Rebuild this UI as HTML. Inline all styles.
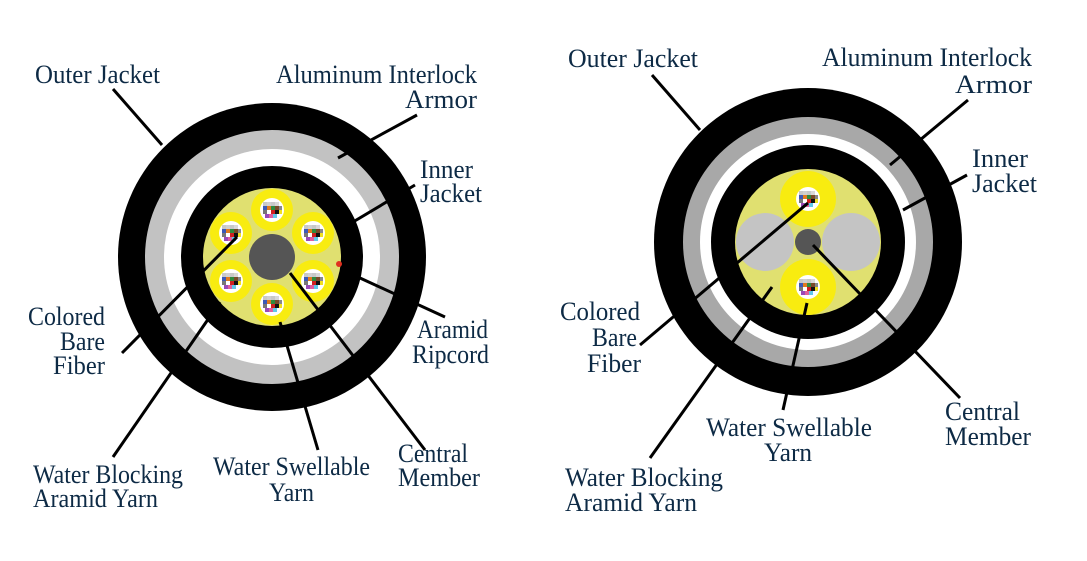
<!DOCTYPE html>
<html><head><meta charset="utf-8"><style>
html,body{margin:0;padding:0;background:#fff}
svg{display:block}
text{font-family:"Liberation Serif",serif;fill:#0d2a45;font-size:26px}
</style></head><body>
<svg width="1087" height="561" viewBox="0 0 1087 561" xmlns="http://www.w3.org/2000/svg">
<defs>
<g id="fib">
<circle r="12" fill="#fff"/>
<rect x="-9" y="-8" width="4" height="4" fill="#c8c8c8"/><rect x="-5" y="-8" width="4" height="4" fill="#d0d0d0"/><rect x="-1" y="-8" width="4" height="4" fill="#c8c8c8"/><rect x="3" y="-8" width="4" height="4" fill="#d8d8d8"/>
<rect x="-9" y="-4" width="4" height="4" fill="#3b5ab8"/><rect x="-5" y="-4" width="4" height="4" fill="#e07a20"/><rect x="-1" y="-4" width="4" height="4" fill="#2e8b3e"/><rect x="3" y="-4" width="4" height="4" fill="#7a4a28"/><rect x="7" y="-4" width="3" height="4" fill="#888"/>
<rect x="-9" y="0" width="4" height="4" fill="#777"/><rect x="-5" y="0" width="4" height="4" fill="#fff"/><rect x="-1" y="0" width="4" height="4" fill="#d02020"/><rect x="3" y="0" width="4" height="4" fill="#111"/><rect x="7" y="0" width="3" height="4" fill="#f0e020"/>
<rect x="-7" y="4" width="4" height="4" fill="#9a4ab8"/><rect x="-3" y="4" width="4" height="4" fill="#e060a0"/><rect x="1" y="4" width="4" height="4" fill="#60c8e8"/>
</g>
</defs>

<!-- LEFT CABLE -->
<circle cx="272" cy="257" r="154" fill="#000"/>
<circle cx="272" cy="257" r="127" fill="#c2c2c2"/>
<circle cx="272" cy="257" r="108" fill="#fff"/>
<circle cx="272" cy="257" r="91" fill="#000"/>
<circle cx="272" cy="257" r="69" fill="#e0e070"/>
<g fill="#f8ec10">
<circle cx="272" cy="210" r="21"/><circle cx="313" cy="233" r="21"/><circle cx="313" cy="281" r="21"/>
<circle cx="272" cy="304" r="21"/><circle cx="231" cy="281" r="21"/><circle cx="231" cy="233" r="21"/>
</g>
<use href="#fib" x="272" y="210"/><use href="#fib" x="313" y="233"/><use href="#fib" x="313" y="281"/>
<use href="#fib" x="272" y="304"/><use href="#fib" x="231" y="281"/><use href="#fib" x="231" y="233"/>
<circle cx="272" cy="257" r="23" fill="#555"/>
<circle cx="339" cy="264" r="3" fill="#e03020"/>
<g stroke="#000" stroke-width="3" fill="none">
<line x1="113" y1="89" x2="162" y2="145"/>
<line x1="417" y1="115" x2="338" y2="158"/>
<line x1="415" y1="185" x2="353" y2="222"/>
<line x1="445" y1="317" x2="360" y2="278"/>
<line x1="425" y1="450" x2="290" y2="273"/>
<line x1="318" y1="450" x2="280" y2="322"/>
<line x1="113" y1="457" x2="220" y2="302"/>
<line x1="122" y1="353" x2="237" y2="237"/>
</g>
<text x="35" y="83" textLength="125" lengthAdjust="spacingAndGlyphs">Outer Jacket</text>
<text x="276" y="83" textLength="201" lengthAdjust="spacingAndGlyphs">Aluminum Interlock</text>
<text x="405" y="108" textLength="72" lengthAdjust="spacingAndGlyphs">Armor</text>
<text x="420" y="178" textLength="53" lengthAdjust="spacingAndGlyphs">Inner</text>
<text x="420" y="202" textLength="62" lengthAdjust="spacingAndGlyphs">Jacket</text>
<text x="28" y="325" textLength="77" lengthAdjust="spacingAndGlyphs">Colored</text>
<text x="60" y="350" textLength="45" lengthAdjust="spacingAndGlyphs">Bare</text>
<text x="53" y="374" textLength="52" lengthAdjust="spacingAndGlyphs">Fiber</text>
<text x="417" y="338" textLength="71" lengthAdjust="spacingAndGlyphs">Aramid</text>
<text x="412" y="363" textLength="77" lengthAdjust="spacingAndGlyphs">Ripcord</text>
<text x="398" y="462" textLength="70" lengthAdjust="spacingAndGlyphs">Central</text>
<text x="398" y="486" textLength="82" lengthAdjust="spacingAndGlyphs">Member</text>
<text x="213" y="475" textLength="157" lengthAdjust="spacingAndGlyphs">Water Swellable</text>
<text x="269" y="501" textLength="45" lengthAdjust="spacingAndGlyphs">Yarn</text>
<text x="33" y="483" textLength="150" lengthAdjust="spacingAndGlyphs">Water Blocking</text>
<text x="33" y="507" textLength="125" lengthAdjust="spacingAndGlyphs">Aramid Yarn</text>

<!-- RIGHT CABLE -->
<circle cx="808" cy="242" r="154" fill="#000"/>
<circle cx="808" cy="242" r="125" fill="#a8a8a8"/>
<circle cx="808" cy="242" r="108" fill="#fff"/>
<circle cx="808" cy="242" r="97" fill="#000"/>
<circle cx="808" cy="242" r="73" fill="#e0e070"/>
<circle cx="765" cy="242" r="29" fill="#c4c4c4"/>
<circle cx="851" cy="242" r="29" fill="#c4c4c4"/>
<circle cx="808" cy="199" r="28" fill="#f8ec10"/>
<circle cx="808" cy="287" r="28" fill="#f8ec10"/>
<use href="#fib" x="808" y="199"/>
<use href="#fib" x="808" y="287"/>
<circle cx="808" cy="242" r="13" fill="#555"/>
<g stroke="#000" stroke-width="3" fill="none">
<line x1="652" y1="75" x2="700" y2="130"/>
<line x1="968" y1="100" x2="890" y2="165"/>
<line x1="967" y1="175" x2="903" y2="210"/>
<line x1="960" y1="398" x2="813" y2="245"/>
<line x1="783" y1="410" x2="807" y2="303"/>
<line x1="650" y1="458" x2="772" y2="287"/>
<line x1="640" y1="345" x2="808" y2="203"/>
</g>
<text x="568" y="67" textLength="130" lengthAdjust="spacingAndGlyphs">Outer Jacket</text>
<text x="822" y="66" textLength="210" lengthAdjust="spacingAndGlyphs">Aluminum Interlock</text>
<text x="955" y="93" textLength="77" lengthAdjust="spacingAndGlyphs">Armor</text>
<text x="972" y="167" textLength="56" lengthAdjust="spacingAndGlyphs">Inner</text>
<text x="972" y="192" textLength="65" lengthAdjust="spacingAndGlyphs">Jacket</text>
<text x="560" y="320" textLength="80" lengthAdjust="spacingAndGlyphs">Colored</text>
<text x="592" y="346" textLength="45" lengthAdjust="spacingAndGlyphs">Bare</text>
<text x="587" y="372" textLength="54" lengthAdjust="spacingAndGlyphs">Fiber</text>
<text x="945" y="420" textLength="75" lengthAdjust="spacingAndGlyphs">Central</text>
<text x="945" y="445" textLength="86" lengthAdjust="spacingAndGlyphs">Member</text>
<text x="706" y="436" textLength="166" lengthAdjust="spacingAndGlyphs">Water Swellable</text>
<text x="764" y="461" textLength="48" lengthAdjust="spacingAndGlyphs">Yarn</text>
<text x="565" y="486" textLength="158" lengthAdjust="spacingAndGlyphs">Water Blocking</text>
<text x="565" y="511" textLength="132" lengthAdjust="spacingAndGlyphs">Aramid Yarn</text>
</svg>
</body></html>
